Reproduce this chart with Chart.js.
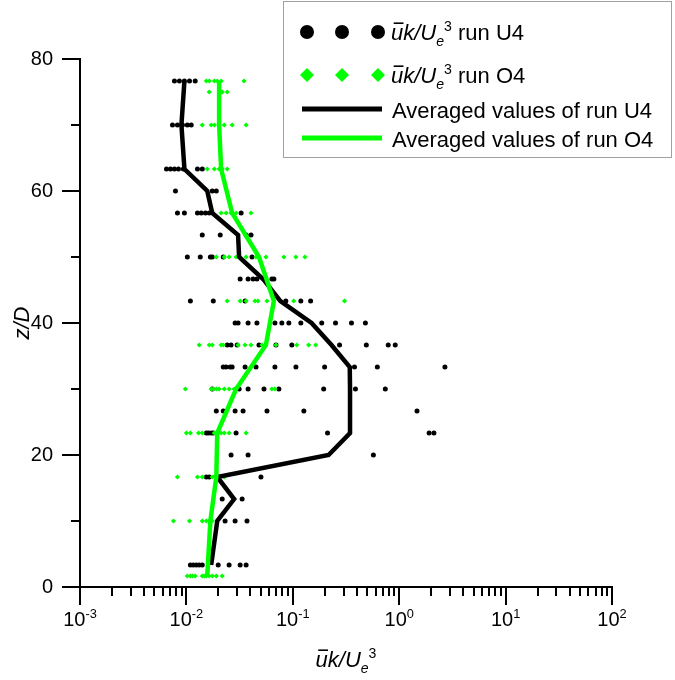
<!DOCTYPE html>
<html>
<head>
<meta charset="utf-8">
<script src="https://cdn.jsdelivr.net/npm/chart.js@4.4.1/dist/chart.umd.min.js"></script>
<style>
  html, body { margin: 0; padding: 0; background: #fff; }
</style>
</head>
<body>
<canvas id="kChart" width="675" height="680"></canvas>
<script>
const FONT = "'Liberation Sans', Arial, sans-serif";
const GREEN = "#00ff00";

// run U4: z/D levels and the uk/Ue^3 values measured at each level
const u4Levels = [76.67, 70, 63.33, 60, 56.67, 53.33, 50, 46.67, 43.33, 40, 36.67, 33.33, 30, 26.67, 23.33, 20, 16.67, 13.33, 10, 3.33];
const u4Values = [
  [0.00772, 0.0086, 0.00958, 0.0107, 0.0121],
  [0.0074, 0.00824, 0.00918, 0.0102, 0.0111],
  [0.0065, 0.00709, 0.00772, 0.00842, 0.00937, 0.0127, 0.0141],
  [0.00789, 0.0175, 0.0191],
  [0.00824, 0.00958, 0.0127, 0.0138, 0.0151, 0.0164, 0.0327],
  [0.0141, 0.0208, 0.0364, 0.0405],
  [0.0102, 0.0135, 0.0168, 0.0175, 0.0222, 0.0414],
  [0.032, 0.038, 0.0423, 0.046, 0.0536, 0.0636, 0.0664],
  [0.0109, 0.0179, 0.0356, 0.086, 0.119, 0.147],
  [0.0287, 0.0306, 0.038, 0.046, 0.0679, 0.0789, 0.0918, 0.119, 0.187, 0.252, 0.356, 0.481],
  [0.0242, 0.0263, 0.03, 0.0481, 0.0694, 0.0979, 0.275, 0.491, 0.789, 0.918],
  [0.0222, 0.0236, 0.0258, 0.0269, 0.0356, 0.0451, 0.0679, 0.107, 0.199, 0.38, 0.623, 2.69],
  [0.0175, 0.0313, 0.038, 0.0536, 0.074, 0.195, 0.388, 0.74],
  [0.0191, 0.0222, 0.0287, 0.0341, 0.0572, 0.127, 1.47],
  [0.0154, 0.0161, 0.0171, 0.0179, 0.0293, 0.212, 1.91, 2.12],
  [0.0263, 0.038, 0.572],
  [0.0154, 0.0164, 0.0502],
  [0.0217, 0.0334],
  [0.0231, 0.0287, 0.0371],
  [0.0109, 0.0116, 0.0124, 0.0132, 0.0141, 0.0199, 0.0252, 0.032, 0.0364]
];

// run O4
const o4Levels = [76.67, 75, 70, 63.33, 56.67, 50, 43.33, 36.67, 30, 23.33, 16.67, 10, 1.67];
const o4Values = [
  [0.0154, 0.0164, 0.0183, 0.0195, 0.0212, 0.0348],
  [0.0164, 0.0217, 0.0242],
  [0.0141, 0.0171, 0.0183, 0.0203, 0.0227, 0.0269, 0.0364],
  [0.0157, 0.0183, 0.0203, 0.0217, 0.0242],
  [0.0212, 0.0236, 0.0263, 0.0293, 0.0405],
  [0.0191, 0.0227, 0.0252, 0.0293, 0.0364, 0.0451, 0.0559, 0.0824, 0.107, 0.13],
  [0.0242, 0.032, 0.0364, 0.0441, 0.047, 0.0572, 0.102, 0.306],
  [0.0132, 0.0164, 0.0175, 0.0212, 0.0222, 0.0306, 0.0356, 0.0405, 0.0513, 0.0694, 0.109, 0.141, 0.164],
  [0.00979, 0.0171, 0.0179, 0.0191, 0.0203, 0.0227, 0.0252, 0.0281, 0.0636, 0.0679],
  [0.01, 0.0109, 0.013, 0.0141, 0.0183, 0.0195, 0.0212, 0.0227, 0.0252, 0.0364],
  [0.00824, 0.0127, 0.0141, 0.0175, 0.0227],
  [0.00756, 0.0107, 0.0141, 0.0154, 0.0164, 0.0175],
  [0.0102, 0.0109, 0.0114, 0.0121, 0.0141, 0.0147, 0.0154, 0.0164, 0.0175, 0.0191, 0.0217]
];

// averaged profiles
const u4AvgZ = [3.33, 10, 13.33, 16.67, 20, 23.33, 26.67, 30, 33.33, 36.67, 40, 43.33, 46.67, 50, 53.33, 56.67, 60, 63.33, 70, 76.67];
const u4Avg = [0.0171, 0.0195, 0.0281, 0.0195, 0.217, 0.345, 0.345, 0.345, 0.343, 0.231, 0.15, 0.0765, 0.0525, 0.0313, 0.0306, 0.0175, 0.0157, 0.00958, 0.00898, 0.00958];
const o4AvgZ = [1.67, 10, 16.67, 23.33, 30, 36.67, 43.33, 50, 56.67, 63.33, 70, 76.67];
const o4Avg = [0.0157, 0.0168, 0.0191, 0.0195, 0.0293, 0.0559, 0.0664, 0.0481, 0.0269, 0.0212, 0.0203, 0.0203];

// axis labels
const xTickValues = [0.001, 0.01, 0.1, 1, 10, 100];
const xTickExps = ["-3", "-2", "-1", "0", "1", "2"];

// flatten level rows into {x, y} points
const toPoints = (levels, rows) =>
  levels.flatMap((z, i) => rows[i].map((v) => ({ x: v, y: z })));
const toLine = (zs, vals) => zs.map((z, i) => ({ x: vals[i], y: z }));

// the uk/Ue^3 symbol as rich text pieces
const ukSymbol = [
  { t: "u", it: true, over: true },
  { t: "k/U", it: true },
  { t: "e", it: true, sub: true },
  { t: "3", sup: true },
];

// draws (or just measures) a run of text pieces, returns width
function richText(ctx, x, y, parts, size, draw = true) {
  let cx = x;
  parts.forEach((p) => {
    const fs = p.sup || p.sub ? size * 0.64 : size;
    ctx.font = `${p.it ? "italic " : ""}${fs}px ${FONT}`;
    const dy = p.sup ? -size * 0.42 : p.sub ? size * 0.26 : 0;
    const w = ctx.measureText(p.t).width;
    if (draw) {
      ctx.fillText(p.t, cx, y + dy);
      if (p.over) ctx.fillRect(cx + w * 0.22, y - size * 0.8, w * 0.8, 1.6);
    }
    cx += w;
  });
  return cx - x;
}

const decor = {
  id: "decor",
  afterDraw(chart) {
    const { ctx, chartArea: a } = chart;
    const xs = chart.scales.x;
    const ys = chart.scales.y;
    ctx.save();
    ctx.fillStyle = "#000";
    ctx.strokeStyle = "#000";
    ctx.lineWidth = 2;

    // tick marks
    ctx.beginPath();
    xs.ticks.forEach((t) => {
      const px = Math.round(xs.getPixelForValue(t.value));
      const len = t.major ? 18 : 9;
      ctx.moveTo(px, a.bottom);
      ctx.lineTo(px, a.bottom + len);
    });
    ys.ticks.forEach((t) => {
      const py = Math.round(ys.getPixelForValue(t.value));
      const len = t.value % 20 === 0 ? 18 : 9;
      ctx.moveTo(a.left, py);
      ctx.lineTo(a.left - len, py);
    });
    ctx.stroke();

    // x tick labels 10^n
    ctx.textBaseline = "alphabetic";
    ctx.textAlign = "left";
    xTickValues.forEach((v, i) => {
      const parts = [{ t: "10" }, { t: xTickExps[i], sup: true }];
      const w = richText(ctx, 0, 0, parts, 20, false);
      richText(ctx, xs.getPixelForValue(v) - w / 2, a.bottom + 39, parts, 20);
    });

    // x axis title
    const tw = richText(ctx, 0, 0, ukSymbol, 22, false);
    richText(ctx, (a.left + a.right) / 2 - tw / 2, a.bottom + 80, ukSymbol, 22);

    // y axis title
    ctx.save();
    ctx.translate(29, (a.top + a.bottom) / 2);
    ctx.rotate(-Math.PI / 2);
    ctx.textAlign = "center";
    ctx.font = `italic 22px ${FONT}`;
    ctx.fillText("z/D", 0, 0);
    ctx.restore();

    // legend box
    ctx.fillStyle = "#fff";
    ctx.fillRect(283, 1, 389, 157);
    ctx.strokeStyle = "#a0a0a0";
    ctx.lineWidth = 1;
    ctx.strokeRect(283.5, 1.5, 388, 156);

    const markX = [307, 342, 378];
    ctx.fillStyle = "#000";
    markX.forEach((mx) => {
      ctx.beginPath();
      ctx.arc(mx, 32, 7, 0, Math.PI * 2);
      ctx.fill();
    });
    ctx.fillStyle = GREEN;
    markX.forEach((mx) => {
      ctx.beginPath();
      ctx.moveTo(mx, 68);
      ctx.lineTo(mx + 7, 75);
      ctx.lineTo(mx, 82);
      ctx.lineTo(mx - 7, 75);
      ctx.closePath();
      ctx.fill();
    });
    ctx.lineWidth = 5;
    ctx.strokeStyle = "#000";
    ctx.beginPath();
    ctx.moveTo(302, 109);
    ctx.lineTo(382, 109);
    ctx.stroke();
    ctx.strokeStyle = GREEN;
    ctx.beginPath();
    ctx.moveTo(302, 138);
    ctx.lineTo(382, 138);
    ctx.stroke();

    ctx.fillStyle = "#000";
    const lw = richText(ctx, 391, 40, ukSymbol, 22);
    richText(ctx, 391 + lw, 40, [{ t: " run U4" }], 22);
    richText(ctx, 391, 83, ukSymbol, 22);
    richText(ctx, 391 + lw, 83, [{ t: " run O4" }], 22);
    richText(ctx, 392, 118, [{ t: "Averaged values of run U4" }], 22);
    richText(ctx, 392, 147, [{ t: "Averaged values of run O4" }], 22);
    ctx.restore();
  },
};

new Chart(document.getElementById("kChart"), {
  type: "scatter",
  data: {
    datasets: [
      {
        label: "Averaged values of run O4",
        data: toLine(o4AvgZ, o4Avg),
        showLine: true,
        borderColor: GREEN,
        borderWidth: 4.5,
        pointRadius: 0,
        tension: 0,
      },
      {
        label: "Averaged values of run U4",
        data: toLine(u4AvgZ, u4Avg),
        showLine: true,
        borderColor: "#000",
        borderWidth: 4.5,
        pointRadius: 0,
        tension: 0,
      },
      {
        label: "run O4",
        data: toPoints(o4Levels, o4Values),
        pointStyle: "rectRot",
        pointRadius: 2.6,
        backgroundColor: GREEN,
        borderWidth: 0,
      },
      {
        label: "run U4",
        data: toPoints(u4Levels, u4Values),
        pointStyle: "circle",
        pointRadius: 2.5,
        backgroundColor: "#000",
        borderWidth: 0,
      },
    ],
  },
  options: {
    responsive: false,
    animation: false,
    devicePixelRatio: 1,
    layout: { padding: { top: 59, right: 63, left: 0, bottom: 0 } },
    plugins: {
      legend: { display: false },
      tooltip: { enabled: false },
    },
    scales: {
      x: {
        type: "logarithmic",
        min: 0.001,
        max: 100,
        grid: { display: false, drawTicks: false },
        border: { display: true, color: "#000", width: 2 },
        ticks: { display: false },
        afterBuildTicks: (scale) => {
          // minor ticks at 1..9 of every decade
          const ticks = [];
          const e0 = Math.round(Math.log10(scale.min));
          const e1 = Math.round(Math.log10(scale.max));
          for (let e = e0; e < e1; e++) {
            for (let s = 1; s <= 9; s++) ticks.push({ value: s * Math.pow(10, e), major: s === 1 });
          }
          ticks.push({ value: scale.max, major: true });
          scale.ticks = ticks;
        },
        afterFit: (scale) => {
          scale.height = 93;
        },
      },
      y: {
        type: "linear",
        min: 0,
        max: 80,
        grid: { display: false, drawTicks: false },
        border: { display: true, color: "#000", width: 2 },
        ticks: {
          stepSize: 10,
          color: "#000",
          padding: 27,
          font: { family: FONT, size: 20 },
          callback: (v) => (v % 20 === 0 ? v : ""),
        },
        afterFit: (scale) => {
          scale.width = 80;
        },
      },
    },
  },
  plugins: [decor],
});
</script>
</body>
</html>
